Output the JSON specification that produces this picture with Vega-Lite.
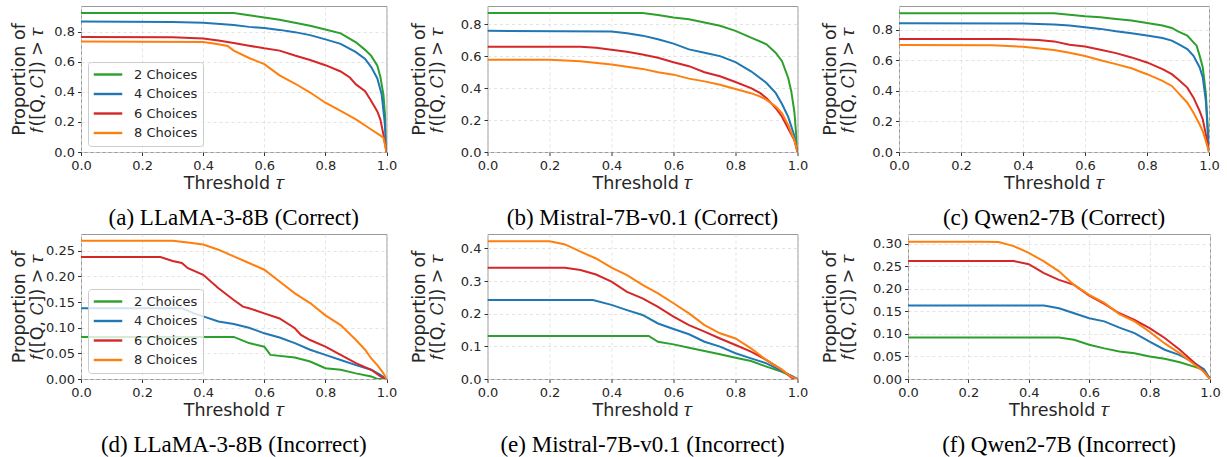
{
"$schema": "https://vega.github.io/schema/vega-lite/v6.json",
"padding": {"left": 9, "top": 5, "right": 0, "bottom": 0},
"config": {
  "view": {"stroke": "#999999", "strokeWidth": 1},
  "axis": {"domain": false, "grid": true, "gridColor": "#dcdcdc", "gridDash": [3, 3], "gridWidth": 0.8, "tickColor": "#333333", "tickSize": 3.5, "tickWidth": 1, "labelFont": "DejaVu Sans", "labelFontSize": 13, "labelColor": "#262626", "labelPadding": 3, "titleFont": "DejaVu Sans", "titleFontSize": 17.5, "titleFontWeight": "normal", "titleColor": "#262626", "titleLineHeight": 18, "labelFlush": false, "labelOverlap": false},
  "axisX": {"labelPadding": 3.5, "titlePadding": 2},
  "legend": {"orient": "bottom-left", "offset": 6.5, "strokeColor": "#cccccc", "fillColor": "rgba(255,255,255,0.8)", "cornerRadius": 3, "padding": 5.5, "rowPadding": 5.5, "symbolType": "M-2.5,0H2.5", "symbolSize": 130, "symbolStrokeWidth": 2.4, "symbolOffset": 7.5, "labelOffset": 19, "labelFont": "DejaVu Sans", "labelFontSize": 13, "labelColor": "#262626"}
},
"datasets": {
"pa": [
{"c":"2 Choices","t":0,"v":0.925},{"c":"2 Choices","t":0.5,"v":0.925},{"c":"2 Choices","t":0.55,"v":0.91},{"c":"2 Choices","t":0.6,"v":0.895},{"c":"2 Choices","t":0.65,"v":0.88},{"c":"2 Choices","t":0.7,"v":0.86},{"c":"2 Choices","t":0.75,"v":0.84},{"c":"2 Choices","t":0.8,"v":0.815},{"c":"2 Choices","t":0.85,"v":0.79},{"c":"2 Choices","t":0.9,"v":0.73},{"c":"2 Choices","t":0.93,"v":0.68},{"c":"2 Choices","t":0.95,"v":0.64},{"c":"2 Choices","t":0.97,"v":0.575},{"c":"2 Choices","t":0.98,"v":0.5},{"c":"2 Choices","t":0.99,"v":0.38},{"c":"2 Choices","t":0.995,"v":0.25},{"c":"2 Choices","t":1,"v":0},
{"c":"4 Choices","t":0,"v":0.868},{"c":"4 Choices","t":0.3,"v":0.866},{"c":"4 Choices","t":0.4,"v":0.86},{"c":"4 Choices","t":0.5,"v":0.846},{"c":"4 Choices","t":0.55,"v":0.833},{"c":"4 Choices","t":0.6,"v":0.825},{"c":"4 Choices","t":0.65,"v":0.813},{"c":"4 Choices","t":0.7,"v":0.798},{"c":"4 Choices","t":0.75,"v":0.778},{"c":"4 Choices","t":0.8,"v":0.75},{"c":"4 Choices","t":0.85,"v":0.72},{"c":"4 Choices","t":0.9,"v":0.665},{"c":"4 Choices","t":0.93,"v":0.62},{"c":"4 Choices","t":0.95,"v":0.565},{"c":"4 Choices","t":0.97,"v":0.49},{"c":"4 Choices","t":0.984,"v":0.385},{"c":"4 Choices","t":0.994,"v":0.2},{"c":"4 Choices","t":1,"v":0},
{"c":"6 Choices","t":0,"v":0.766},{"c":"6 Choices","t":0.3,"v":0.764},{"c":"6 Choices","t":0.4,"v":0.756},{"c":"6 Choices","t":0.45,"v":0.742},{"c":"6 Choices","t":0.5,"v":0.726},{"c":"6 Choices","t":0.55,"v":0.708},{"c":"6 Choices","t":0.6,"v":0.69},{"c":"6 Choices","t":0.65,"v":0.675},{"c":"6 Choices","t":0.7,"v":0.642},{"c":"6 Choices","t":0.75,"v":0.612},{"c":"6 Choices","t":0.8,"v":0.578},{"c":"6 Choices","t":0.85,"v":0.536},{"c":"6 Choices","t":0.88,"v":0.496},{"c":"6 Choices","t":0.9,"v":0.45},{"c":"6 Choices","t":0.93,"v":0.405},{"c":"6 Choices","t":0.95,"v":0.34},{"c":"6 Choices","t":0.97,"v":0.27},{"c":"6 Choices","t":0.98,"v":0.216},{"c":"6 Choices","t":0.99,"v":0.116},{"c":"6 Choices","t":1,"v":0},
{"c":"8 Choices","t":0,"v":0.735},{"c":"8 Choices","t":0.4,"v":0.733},{"c":"8 Choices","t":0.45,"v":0.718},{"c":"8 Choices","t":0.48,"v":0.706},{"c":"8 Choices","t":0.5,"v":0.675},{"c":"8 Choices","t":0.55,"v":0.626},{"c":"8 Choices","t":0.6,"v":0.585},{"c":"8 Choices","t":0.65,"v":0.51},{"c":"8 Choices","t":0.7,"v":0.456},{"c":"8 Choices","t":0.75,"v":0.396},{"c":"8 Choices","t":0.8,"v":0.328},{"c":"8 Choices","t":0.85,"v":0.273},{"c":"8 Choices","t":0.9,"v":0.217},{"c":"8 Choices","t":0.95,"v":0.15},{"c":"8 Choices","t":0.978,"v":0.112},{"c":"8 Choices","t":0.99,"v":0.095},{"c":"8 Choices","t":1,"v":0}
],
"pb": [
{"c":"2 Choices","t":0,"v":0.87},{"c":"2 Choices","t":0.5,"v":0.87},{"c":"2 Choices","t":0.55,"v":0.857},{"c":"2 Choices","t":0.6,"v":0.842},{"c":"2 Choices","t":0.65,"v":0.83},{"c":"2 Choices","t":0.7,"v":0.81},{"c":"2 Choices","t":0.75,"v":0.79},{"c":"2 Choices","t":0.8,"v":0.758},{"c":"2 Choices","t":0.85,"v":0.716},{"c":"2 Choices","t":0.9,"v":0.674},{"c":"2 Choices","t":0.93,"v":0.62},{"c":"2 Choices","t":0.95,"v":0.568},{"c":"2 Choices","t":0.97,"v":0.463},{"c":"2 Choices","t":0.98,"v":0.379},{"c":"2 Choices","t":0.99,"v":0.25},{"c":"2 Choices","t":1,"v":0},
{"c":"4 Choices","t":0,"v":0.758},{"c":"4 Choices","t":0.4,"v":0.754},{"c":"4 Choices","t":0.45,"v":0.743},{"c":"4 Choices","t":0.5,"v":0.728},{"c":"4 Choices","t":0.55,"v":0.705},{"c":"4 Choices","t":0.6,"v":0.678},{"c":"4 Choices","t":0.65,"v":0.642},{"c":"4 Choices","t":0.7,"v":0.621},{"c":"4 Choices","t":0.75,"v":0.6},{"c":"4 Choices","t":0.8,"v":0.562},{"c":"4 Choices","t":0.85,"v":0.505},{"c":"4 Choices","t":0.9,"v":0.432},{"c":"4 Choices","t":0.93,"v":0.368},{"c":"4 Choices","t":0.95,"v":0.3},{"c":"4 Choices","t":0.97,"v":0.22},{"c":"4 Choices","t":0.98,"v":0.16},{"c":"4 Choices","t":0.99,"v":0.1},{"c":"4 Choices","t":1,"v":0},
{"c":"6 Choices","t":0,"v":0.659},{"c":"6 Choices","t":0.3,"v":0.658},{"c":"6 Choices","t":0.35,"v":0.653},{"c":"6 Choices","t":0.4,"v":0.64},{"c":"6 Choices","t":0.45,"v":0.627},{"c":"6 Choices","t":0.5,"v":0.61},{"c":"6 Choices","t":0.55,"v":0.59},{"c":"6 Choices","t":0.6,"v":0.562},{"c":"6 Choices","t":0.65,"v":0.537},{"c":"6 Choices","t":0.7,"v":0.499},{"c":"6 Choices","t":0.75,"v":0.474},{"c":"6 Choices","t":0.8,"v":0.438},{"c":"6 Choices","t":0.85,"v":0.4},{"c":"6 Choices","t":0.88,"v":0.368},{"c":"6 Choices","t":0.9,"v":0.337},{"c":"6 Choices","t":0.93,"v":0.274},{"c":"6 Choices","t":0.95,"v":0.221},{"c":"6 Choices","t":0.97,"v":0.147},{"c":"6 Choices","t":0.99,"v":0.074},{"c":"6 Choices","t":1,"v":0},
{"c":"8 Choices","t":0,"v":0.577},{"c":"8 Choices","t":0.2,"v":0.577},{"c":"8 Choices","t":0.3,"v":0.568},{"c":"8 Choices","t":0.4,"v":0.547},{"c":"8 Choices","t":0.5,"v":0.52},{"c":"8 Choices","t":0.55,"v":0.499},{"c":"8 Choices","t":0.6,"v":0.484},{"c":"8 Choices","t":0.65,"v":0.459},{"c":"8 Choices","t":0.7,"v":0.442},{"c":"8 Choices","t":0.75,"v":0.421},{"c":"8 Choices","t":0.8,"v":0.394},{"c":"8 Choices","t":0.85,"v":0.368},{"c":"8 Choices","t":0.88,"v":0.347},{"c":"8 Choices","t":0.9,"v":0.326},{"c":"8 Choices","t":0.93,"v":0.284},{"c":"8 Choices","t":0.95,"v":0.242},{"c":"8 Choices","t":0.97,"v":0.168},{"c":"8 Choices","t":0.99,"v":0.074},{"c":"8 Choices","t":1,"v":0}
],
"pc": [
{"c":"2 Choices","t":0,"v":0.91},{"c":"2 Choices","t":0.5,"v":0.91},{"c":"2 Choices","t":0.55,"v":0.9},{"c":"2 Choices","t":0.6,"v":0.89},{"c":"2 Choices","t":0.65,"v":0.883},{"c":"2 Choices","t":0.7,"v":0.872},{"c":"2 Choices","t":0.75,"v":0.862},{"c":"2 Choices","t":0.8,"v":0.846},{"c":"2 Choices","t":0.85,"v":0.829},{"c":"2 Choices","t":0.88,"v":0.813},{"c":"2 Choices","t":0.9,"v":0.791},{"c":"2 Choices","t":0.93,"v":0.763},{"c":"2 Choices","t":0.95,"v":0.719},{"c":"2 Choices","t":0.96,"v":0.697},{"c":"2 Choices","t":0.97,"v":0.63},{"c":"2 Choices","t":0.98,"v":0.554},{"c":"2 Choices","t":0.99,"v":0.378},{"c":"2 Choices","t":1,"v":0},
{"c":"4 Choices","t":0,"v":0.844},{"c":"4 Choices","t":0.4,"v":0.842},{"c":"4 Choices","t":0.5,"v":0.835},{"c":"4 Choices","t":0.55,"v":0.829},{"c":"4 Choices","t":0.6,"v":0.818},{"c":"4 Choices","t":0.65,"v":0.807},{"c":"4 Choices","t":0.7,"v":0.791},{"c":"4 Choices","t":0.75,"v":0.778},{"c":"4 Choices","t":0.8,"v":0.763},{"c":"4 Choices","t":0.85,"v":0.747},{"c":"4 Choices","t":0.88,"v":0.73},{"c":"4 Choices","t":0.9,"v":0.708},{"c":"4 Choices","t":0.93,"v":0.675},{"c":"4 Choices","t":0.95,"v":0.63},{"c":"4 Choices","t":0.97,"v":0.554},{"c":"4 Choices","t":0.98,"v":0.488},{"c":"4 Choices","t":0.99,"v":0.334},{"c":"4 Choices","t":1,"v":0},
{"c":"6 Choices","t":0,"v":0.741},{"c":"6 Choices","t":0.35,"v":0.741},{"c":"6 Choices","t":0.4,"v":0.738},{"c":"6 Choices","t":0.45,"v":0.734},{"c":"6 Choices","t":0.5,"v":0.725},{"c":"6 Choices","t":0.55,"v":0.703},{"c":"6 Choices","t":0.6,"v":0.692},{"c":"6 Choices","t":0.65,"v":0.67},{"c":"6 Choices","t":0.7,"v":0.648},{"c":"6 Choices","t":0.75,"v":0.62},{"c":"6 Choices","t":0.8,"v":0.587},{"c":"6 Choices","t":0.85,"v":0.543},{"c":"6 Choices","t":0.88,"v":0.51},{"c":"6 Choices","t":0.9,"v":0.477},{"c":"6 Choices","t":0.93,"v":0.422},{"c":"6 Choices","t":0.95,"v":0.356},{"c":"6 Choices","t":0.97,"v":0.268},{"c":"6 Choices","t":0.98,"v":0.213},{"c":"6 Choices","t":0.99,"v":0.114},{"c":"6 Choices","t":1,"v":0},
{"c":"8 Choices","t":0,"v":0.701},{"c":"8 Choices","t":0.3,"v":0.7},{"c":"8 Choices","t":0.4,"v":0.69},{"c":"8 Choices","t":0.5,"v":0.668},{"c":"8 Choices","t":0.55,"v":0.651},{"c":"8 Choices","t":0.6,"v":0.629},{"c":"8 Choices","t":0.65,"v":0.602},{"c":"8 Choices","t":0.7,"v":0.576},{"c":"8 Choices","t":0.75,"v":0.549},{"c":"8 Choices","t":0.8,"v":0.51},{"c":"8 Choices","t":0.85,"v":0.466},{"c":"8 Choices","t":0.88,"v":0.433},{"c":"8 Choices","t":0.9,"v":0.389},{"c":"8 Choices","t":0.93,"v":0.323},{"c":"8 Choices","t":0.95,"v":0.257},{"c":"8 Choices","t":0.97,"v":0.18},{"c":"8 Choices","t":0.98,"v":0.136},{"c":"8 Choices","t":0.99,"v":0.07},{"c":"8 Choices","t":1,"v":0}
],
"pd": [
{"c":"2 Choices","t":0,"v":0.082},{"c":"2 Choices","t":0.5,"v":0.082},{"c":"2 Choices","t":0.55,"v":0.07},{"c":"2 Choices","t":0.6,"v":0.063},{"c":"2 Choices","t":0.62,"v":0.047},{"c":"2 Choices","t":0.7,"v":0.042},{"c":"2 Choices","t":0.75,"v":0.034},{"c":"2 Choices","t":0.8,"v":0.021},{"c":"2 Choices","t":0.85,"v":0.018},{"c":"2 Choices","t":0.9,"v":0.011},{"c":"2 Choices","t":0.95,"v":0.005},{"c":"2 Choices","t":0.97,"v":0},{"c":"2 Choices","t":1,"v":0},
{"c":"4 Choices","t":0,"v":0.138},{"c":"4 Choices","t":0.33,"v":0.138},{"c":"4 Choices","t":0.37,"v":0.128},{"c":"4 Choices","t":0.4,"v":0.122},{"c":"4 Choices","t":0.45,"v":0.112},{"c":"4 Choices","t":0.5,"v":0.107},{"c":"4 Choices","t":0.55,"v":0.1},{"c":"4 Choices","t":0.6,"v":0.089},{"c":"4 Choices","t":0.65,"v":0.081},{"c":"4 Choices","t":0.7,"v":0.07},{"c":"4 Choices","t":0.75,"v":0.057},{"c":"4 Choices","t":0.8,"v":0.047},{"c":"4 Choices","t":0.85,"v":0.037},{"c":"4 Choices","t":0.9,"v":0.027},{"c":"4 Choices","t":0.95,"v":0.018},{"c":"4 Choices","t":0.98,"v":0.008},{"c":"4 Choices","t":1,"v":0},
{"c":"6 Choices","t":0,"v":0.2376},{"c":"6 Choices","t":0.26,"v":0.2376},{"c":"6 Choices","t":0.3,"v":0.23},{"c":"6 Choices","t":0.33,"v":0.226},{"c":"6 Choices","t":0.35,"v":0.216},{"c":"6 Choices","t":0.4,"v":0.203},{"c":"6 Choices","t":0.45,"v":0.177},{"c":"6 Choices","t":0.5,"v":0.154},{"c":"6 Choices","t":0.53,"v":0.141},{"c":"6 Choices","t":0.55,"v":0.138},{"c":"6 Choices","t":0.6,"v":0.128},{"c":"6 Choices","t":0.65,"v":0.118},{"c":"6 Choices","t":0.7,"v":0.099},{"c":"6 Choices","t":0.72,"v":0.086},{"c":"6 Choices","t":0.75,"v":0.076},{"c":"6 Choices","t":0.8,"v":0.063},{"c":"6 Choices","t":0.85,"v":0.047},{"c":"6 Choices","t":0.9,"v":0.031},{"c":"6 Choices","t":0.95,"v":0.018},{"c":"6 Choices","t":0.98,"v":0.005},{"c":"6 Choices","t":1,"v":0},
{"c":"8 Choices","t":0,"v":0.2695},{"c":"8 Choices","t":0.3,"v":0.2695},{"c":"8 Choices","t":0.35,"v":0.266},{"c":"8 Choices","t":0.4,"v":0.262},{"c":"8 Choices","t":0.45,"v":0.252},{"c":"8 Choices","t":0.5,"v":0.239},{"c":"8 Choices","t":0.55,"v":0.226},{"c":"8 Choices","t":0.6,"v":0.213},{"c":"8 Choices","t":0.65,"v":0.19},{"c":"8 Choices","t":0.7,"v":0.167},{"c":"8 Choices","t":0.75,"v":0.148},{"c":"8 Choices","t":0.8,"v":0.124},{"c":"8 Choices","t":0.85,"v":0.105},{"c":"8 Choices","t":0.9,"v":0.076},{"c":"8 Choices","t":0.93,"v":0.057},{"c":"8 Choices","t":0.95,"v":0.04},{"c":"8 Choices","t":0.97,"v":0.027},{"c":"8 Choices","t":0.99,"v":0.011},{"c":"8 Choices","t":1,"v":0}
],
"pe": [
{"c":"2 Choices","t":0,"v":0.132},{"c":"2 Choices","t":0.52,"v":0.132},{"c":"2 Choices","t":0.55,"v":0.114},{"c":"2 Choices","t":0.6,"v":0.106},{"c":"2 Choices","t":0.65,"v":0.096},{"c":"2 Choices","t":0.7,"v":0.086},{"c":"2 Choices","t":0.75,"v":0.076},{"c":"2 Choices","t":0.8,"v":0.065},{"c":"2 Choices","t":0.85,"v":0.055},{"c":"2 Choices","t":0.9,"v":0.038},{"c":"2 Choices","t":0.95,"v":0.022},{"c":"2 Choices","t":1,"v":0},
{"c":"4 Choices","t":0,"v":0.242},{"c":"4 Choices","t":0.34,"v":0.242},{"c":"4 Choices","t":0.4,"v":0.227},{"c":"4 Choices","t":0.45,"v":0.211},{"c":"4 Choices","t":0.5,"v":0.196},{"c":"4 Choices","t":0.55,"v":0.17},{"c":"4 Choices","t":0.6,"v":0.153},{"c":"4 Choices","t":0.65,"v":0.137},{"c":"4 Choices","t":0.7,"v":0.114},{"c":"4 Choices","t":0.75,"v":0.099},{"c":"4 Choices","t":0.8,"v":0.079},{"c":"4 Choices","t":0.85,"v":0.063},{"c":"4 Choices","t":0.9,"v":0.048},{"c":"4 Choices","t":0.95,"v":0.024},{"c":"4 Choices","t":1,"v":0},
{"c":"6 Choices","t":0,"v":0.341},{"c":"6 Choices","t":0.25,"v":0.341},{"c":"6 Choices","t":0.3,"v":0.334},{"c":"6 Choices","t":0.35,"v":0.32},{"c":"6 Choices","t":0.4,"v":0.298},{"c":"6 Choices","t":0.45,"v":0.267},{"c":"6 Choices","t":0.5,"v":0.247},{"c":"6 Choices","t":0.55,"v":0.221},{"c":"6 Choices","t":0.6,"v":0.191},{"c":"6 Choices","t":0.65,"v":0.165},{"c":"6 Choices","t":0.7,"v":0.145},{"c":"6 Choices","t":0.75,"v":0.124},{"c":"6 Choices","t":0.8,"v":0.104},{"c":"6 Choices","t":0.85,"v":0.084},{"c":"6 Choices","t":0.9,"v":0.058},{"c":"6 Choices","t":0.95,"v":0.028},{"c":"6 Choices","t":0.98,"v":0.004},{"c":"6 Choices","t":1,"v":0},
{"c":"8 Choices","t":0,"v":0.422},{"c":"8 Choices","t":0.2,"v":0.422},{"c":"8 Choices","t":0.22,"v":0.418},{"c":"8 Choices","t":0.25,"v":0.412},{"c":"8 Choices","t":0.3,"v":0.39},{"c":"8 Choices","t":0.35,"v":0.369},{"c":"8 Choices","t":0.4,"v":0.341},{"c":"8 Choices","t":0.45,"v":0.318},{"c":"8 Choices","t":0.5,"v":0.288},{"c":"8 Choices","t":0.55,"v":0.262},{"c":"8 Choices","t":0.6,"v":0.232},{"c":"8 Choices","t":0.65,"v":0.201},{"c":"8 Choices","t":0.7,"v":0.165},{"c":"8 Choices","t":0.75,"v":0.14},{"c":"8 Choices","t":0.8,"v":0.124},{"c":"8 Choices","t":0.85,"v":0.094},{"c":"8 Choices","t":0.9,"v":0.058},{"c":"8 Choices","t":0.95,"v":0.028},{"c":"8 Choices","t":0.98,"v":0.007},{"c":"8 Choices","t":1,"v":0}
],
"pf": [
{"c":"2 Choices","t":0,"v":0.092},{"c":"2 Choices","t":0.5,"v":0.092},{"c":"2 Choices","t":0.55,"v":0.087},{"c":"2 Choices","t":0.6,"v":0.076},{"c":"2 Choices","t":0.65,"v":0.068},{"c":"2 Choices","t":0.7,"v":0.061},{"c":"2 Choices","t":0.75,"v":0.057},{"c":"2 Choices","t":0.8,"v":0.05},{"c":"2 Choices","t":0.85,"v":0.045},{"c":"2 Choices","t":0.9,"v":0.037},{"c":"2 Choices","t":0.95,"v":0.027},{"c":"2 Choices","t":0.98,"v":0.02},{"c":"2 Choices","t":1,"v":0},
{"c":"4 Choices","t":0,"v":0.163},{"c":"4 Choices","t":0.45,"v":0.163},{"c":"4 Choices","t":0.5,"v":0.157},{"c":"4 Choices","t":0.55,"v":0.146},{"c":"4 Choices","t":0.6,"v":0.135},{"c":"4 Choices","t":0.65,"v":0.128},{"c":"4 Choices","t":0.7,"v":0.114},{"c":"4 Choices","t":0.75,"v":0.102},{"c":"4 Choices","t":0.8,"v":0.083},{"c":"4 Choices","t":0.85,"v":0.065},{"c":"4 Choices","t":0.9,"v":0.053},{"c":"4 Choices","t":0.95,"v":0.035},{"c":"4 Choices","t":0.98,"v":0.022},{"c":"4 Choices","t":1,"v":0},
{"c":"6 Choices","t":0,"v":0.262},{"c":"6 Choices","t":0.35,"v":0.262},{"c":"6 Choices","t":0.4,"v":0.255},{"c":"6 Choices","t":0.45,"v":0.235},{"c":"6 Choices","t":0.5,"v":0.22},{"c":"6 Choices","t":0.55,"v":0.209},{"c":"6 Choices","t":0.6,"v":0.185},{"c":"6 Choices","t":0.65,"v":0.167},{"c":"6 Choices","t":0.7,"v":0.146},{"c":"6 Choices","t":0.75,"v":0.131},{"c":"6 Choices","t":0.8,"v":0.113},{"c":"6 Choices","t":0.85,"v":0.091},{"c":"6 Choices","t":0.9,"v":0.065},{"c":"6 Choices","t":0.95,"v":0.035},{"c":"6 Choices","t":0.98,"v":0.016},{"c":"6 Choices","t":1,"v":0},
{"c":"8 Choices","t":0,"v":0.305},{"c":"8 Choices","t":0.25,"v":0.305},{"c":"8 Choices","t":0.3,"v":0.304},{"c":"8 Choices","t":0.35,"v":0.295},{"c":"8 Choices","t":0.4,"v":0.28},{"c":"8 Choices","t":0.45,"v":0.261},{"c":"8 Choices","t":0.5,"v":0.239},{"c":"8 Choices","t":0.55,"v":0.209},{"c":"8 Choices","t":0.6,"v":0.187},{"c":"8 Choices","t":0.65,"v":0.169},{"c":"8 Choices","t":0.7,"v":0.144},{"c":"8 Choices","t":0.75,"v":0.128},{"c":"8 Choices","t":0.8,"v":0.105},{"c":"8 Choices","t":0.85,"v":0.079},{"c":"8 Choices","t":0.9,"v":0.057},{"c":"8 Choices","t":0.95,"v":0.031},{"c":"8 Choices","t":0.98,"v":0.016},{"c":"8 Choices","t":1,"v":0}
]
},
"spacing": 3,
"resolve": {"scale": {"color": "independent"}, "legend": {"color": "independent"}},
"vconcat": [
{
"hconcat": [
{
"width": 305.5, "height": 146,
"data": {"name": "pa"},
"mark": {"type": "line", "strokeWidth": 2, "clip": true},
"encoding": {
"x": {"field": "t", "type": "quantitative", "scale": {"domain": [0, 1], "nice": false, "zero": false}, "axis": {"values": [0, 0.2, 0.4, 0.6, 0.8, 1], "format": ".1f", "title": "Threshold 𝜏"}},
"y": {"field": "v", "type": "quantitative", "scale": {"domain": [0, 0.972], "nice": false}, "axis": {"values": [0, 0.2, 0.4, 0.6, 0.8], "format": ".1f", "title": ["Proportion of", "𝑓([Q, 𝐶]) > 𝜏"], "minExtent": 27, "maxExtent": 27, "titlePadding": 8}},
"color": {"field": "c", "type": "nominal", "scale": {"domain": ["2 Choices", "4 Choices", "6 Choices", "8 Choices"], "range": ["#2ca02c", "#1f77b4", "#d62728", "#ff7f0e"]}, "legend": {"title": null}}
},
"title": {"text": "(a) LLaMA-3-8B (Correct)", "orient": "bottom", "anchor": "middle", "font": "Liberation Serif", "fontSize": 23, "fontWeight": "normal", "color": "#000000", "offset": 15, "baseline": "top"}
},
{
"width": 310, "height": 146,
"data": {"name": "pb"},
"mark": {"type": "line", "strokeWidth": 2, "clip": true},
"encoding": {
"x": {"field": "t", "type": "quantitative", "scale": {"domain": [0, 1], "nice": false, "zero": false}, "axis": {"values": [0, 0.2, 0.4, 0.6, 0.8, 1], "format": ".1f", "title": "Threshold 𝜏"}},
"y": {"field": "v", "type": "quantitative", "scale": {"domain": [0, 0.9135], "nice": false}, "axis": {"values": [0, 0.2, 0.4, 0.6, 0.8], "format": ".1f", "title": ["Proportion of", "𝑓([Q, 𝐶]) > 𝜏"], "minExtent": 27, "maxExtent": 27, "titlePadding": 13.7}},
"color": {"field": "c", "type": "nominal", "scale": {"domain": ["2 Choices", "4 Choices", "6 Choices", "8 Choices"], "range": ["#2ca02c", "#1f77b4", "#d62728", "#ff7f0e"]}, "legend": null}
},
"title": {"text": "(b) Mistral-7B-v0.1 (Correct)", "orient": "bottom", "anchor": "middle", "font": "Liberation Serif", "fontSize": 23, "fontWeight": "normal", "color": "#000000", "offset": 15, "baseline": "top"}
},
{
"width": 310, "height": 146,
"data": {"name": "pc"},
"mark": {"type": "line", "strokeWidth": 2, "clip": true},
"encoding": {
"x": {"field": "t", "type": "quantitative", "scale": {"domain": [0, 1], "nice": false, "zero": false}, "axis": {"values": [0, 0.2, 0.4, 0.6, 0.8, 1], "format": ".1f", "title": "Threshold 𝜏"}},
"y": {"field": "v", "type": "quantitative", "scale": {"domain": [0, 0.957], "nice": false}, "axis": {"values": [0, 0.2, 0.4, 0.6, 0.8], "format": ".1f", "title": ["Proportion of", "𝑓([Q, 𝐶]) > 𝜏"], "minExtent": 27, "maxExtent": 27, "titlePadding": 14.7}},
"color": {"field": "c", "type": "nominal", "scale": {"domain": ["2 Choices", "4 Choices", "6 Choices", "8 Choices"], "range": ["#2ca02c", "#1f77b4", "#d62728", "#ff7f0e"]}, "legend": null}
},
"title": {"text": "(c) Qwen2-7B (Correct)", "orient": "bottom", "anchor": "middle", "font": "Liberation Serif", "fontSize": 23, "fontWeight": "normal", "color": "#000000", "offset": 15, "baseline": "top"}
}
],
"spacing": 11.5,
"resolve": {"scale": {"color": "independent"}, "legend": {"color": "independent"}}
},
{
"hconcat": [
{
"width": 305.5, "height": 145,
"data": {"name": "pd"},
"mark": {"type": "line", "strokeWidth": 2, "clip": true},
"encoding": {
"x": {"field": "t", "type": "quantitative", "scale": {"domain": [0, 1], "nice": false, "zero": false}, "axis": {"values": [0, 0.2, 0.4, 0.6, 0.8, 1], "format": ".1f", "title": "Threshold 𝜏"}},
"y": {"field": "v", "type": "quantitative", "scale": {"domain": [0, 0.2826], "nice": false}, "axis": {"values": [0, 0.05, 0.1, 0.15, 0.2, 0.25], "format": ".2f", "title": ["Proportion of", "𝑓([Q, 𝐶]) > 𝜏"], "minExtent": 35, "maxExtent": 35, "titlePadding": 0}},
"color": {"field": "c", "type": "nominal", "scale": {"domain": ["2 Choices", "4 Choices", "6 Choices", "8 Choices"], "range": ["#2ca02c", "#1f77b4", "#d62728", "#ff7f0e"]}, "legend": {"title": null}}
},
"title": {"text": "(d) LLaMA-3-8B (Incorrect)", "orient": "bottom", "anchor": "middle", "font": "Liberation Serif", "fontSize": 23, "fontWeight": "normal", "color": "#000000", "offset": 15, "baseline": "top"}
},
{
"width": 310, "height": 145,
"data": {"name": "pe"},
"mark": {"type": "line", "strokeWidth": 2, "clip": true},
"encoding": {
"x": {"field": "t", "type": "quantitative", "scale": {"domain": [0, 1], "nice": false, "zero": false}, "axis": {"values": [0, 0.2, 0.4, 0.6, 0.8, 1], "format": ".1f", "title": "Threshold 𝜏"}},
"y": {"field": "v", "type": "quantitative", "scale": {"domain": [0, 0.444], "nice": false}, "axis": {"values": [0, 0.1, 0.2, 0.3, 0.4], "format": ".1f", "title": ["Proportion of", "𝑓([Q, 𝐶]) > 𝜏"], "minExtent": 27, "maxExtent": 27, "titlePadding": 13.7}},
"color": {"field": "c", "type": "nominal", "scale": {"domain": ["2 Choices", "4 Choices", "6 Choices", "8 Choices"], "range": ["#2ca02c", "#1f77b4", "#d62728", "#ff7f0e"]}, "legend": null}
},
"title": {"text": "(e) Mistral-7B-v0.1 (Incorrect)", "orient": "bottom", "anchor": "middle", "font": "Liberation Serif", "fontSize": 23, "fontWeight": "normal", "color": "#000000", "offset": 15, "baseline": "top"}
},
{
"width": 302, "height": 145,
"data": {"name": "pf"},
"mark": {"type": "line", "strokeWidth": 2, "clip": true},
"encoding": {
"x": {"field": "t", "type": "quantitative", "scale": {"domain": [0, 1], "nice": false, "zero": false}, "axis": {"values": [0, 0.2, 0.4, 0.6, 0.8, 1], "format": ".1f", "title": "Threshold 𝜏"}},
"y": {"field": "v", "type": "quantitative", "scale": {"domain": [0, 0.322], "nice": false}, "axis": {"values": [0, 0.05, 0.1, 0.15, 0.2, 0.25, 0.3], "format": ".2f", "title": ["Proportion of", "𝑓([Q, 𝐶]) > 𝜏"], "minExtent": 36, "maxExtent": 36, "titlePadding": 14.7}},
"color": {"field": "c", "type": "nominal", "scale": {"domain": ["2 Choices", "4 Choices", "6 Choices", "8 Choices"], "range": ["#2ca02c", "#1f77b4", "#d62728", "#ff7f0e"]}, "legend": null}
},
"title": {"text": "(f) Qwen2-7B (Incorrect)", "orient": "bottom", "anchor": "middle", "font": "Liberation Serif", "fontSize": 23, "fontWeight": "normal", "color": "#000000", "offset": 15, "baseline": "top"}
}
],
"spacing": 11.5,
"resolve": {"scale": {"color": "independent"}, "legend": {"color": "independent"}}
}
]
}
